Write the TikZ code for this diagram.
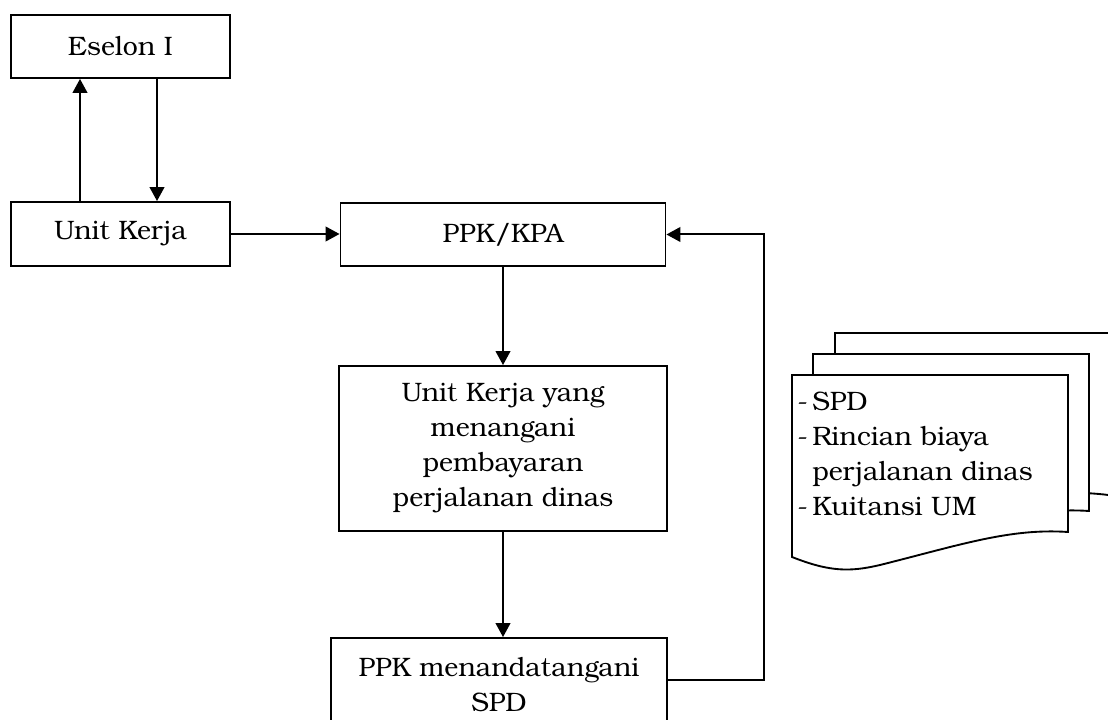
\documentclass[tikz,border=0pt]{standalone}
\usepackage{fontspec}
\setmainfont{texgyrebonum}[Extension=.otf,UprightFont=*-regular,BoldFont=*-bold,ItalicFont=*-italic,BoldItalicFont=*-bolditalic]
\usetikzlibrary{arrows.meta}
\newcommand\fsz{\fontsize{20pt}{26.25pt}\selectfont}
\newcommand\dsh{\makebox[11.25pt][l]{-}}
\begin{document}
\begin{tikzpicture}[x=0.75pt,y=-0.75pt,
  box/.style={draw,line width=1.4pt,inner sep=0pt,align=center,font=\fsz},
  arr/.style={line width=1.5pt,-{Triangle[length=10.5pt,width=11pt]}},
  docst/.style={draw,fill=white,line width=1.4pt,line join=miter}]
\clip (0,0) rectangle (1108,720);
\fill[white] (0,0) rectangle (1108,720);

\node[box,minimum width=164.25pt,minimum height=47.25pt] (es) at (120.5,46.5) {Eselon I};
\node[box,minimum width=164.25pt,minimum height=48pt] (uk) at (120.5,234) {Unit Kerja};
\node[box,minimum width=243.75pt,minimum height=47.25pt] (ppk) at (503,234.5) {PPK/KPA};
\node[box,minimum width=246pt,minimum height=123.75pt] (uy) at (503,448.5) {Unit Kerja yang\\menangani\\pembayaran\\perjalanan dinas};
\node[box,minimum width=252pt,minimum height=69.75pt] (ppks) at (499,684.5) {PPK menandatangani\\SPD};

\draw[arr] ([xshift=-30.375pt]uk.north) -- ([xshift=-30.375pt]es.south);
\draw[arr] ([xshift=27.375pt]es.south) -- ([xshift=27.375pt]uk.north);
\draw[arr] (uk.east) -- (uk.east -| ppk.west);
\draw[arr] (ppk.south) -- (uy.north);
\draw[arr] (uy.south) -- (uy.south |- ppks.north);
\draw[arr] ([yshift=3.4pt]ppks.east) -- ++(96,0) |- (ppk.east);

\begin{scope}[shift={(43,-42)}]
  \draw[docst] (792,375) -- (1072,375) -- (1072,538) .. controls (1010,528) and (960,545) .. (880,565) .. controls (850,572) and (830,572) .. (792,557) -- cycle;
\end{scope}
\begin{scope}[shift={(21,-21)}]
  \draw[docst] (792,375) -- (1068,375) -- (1068,532) .. controls (1010,528) and (960,545) .. (880,565) .. controls (850,572) and (830,572) .. (792,557) -- cycle;
\end{scope}
\draw[docst] (792,375) -- (1068,375) -- (1068,532) .. controls (1010,528) and (960,545) .. (880,565) .. controls (850,572) and (830,572) .. (792,557) -- cycle;
\node[font=\fsz,align=left,anchor=west,inner sep=0pt] (dt) at (797,454) {\dsh SPD\\\dsh Rincian biaya\\\hspace*{11.25pt}perjalanan dinas\\\dsh Kuitansi UM};
\end{tikzpicture}
\end{document}
